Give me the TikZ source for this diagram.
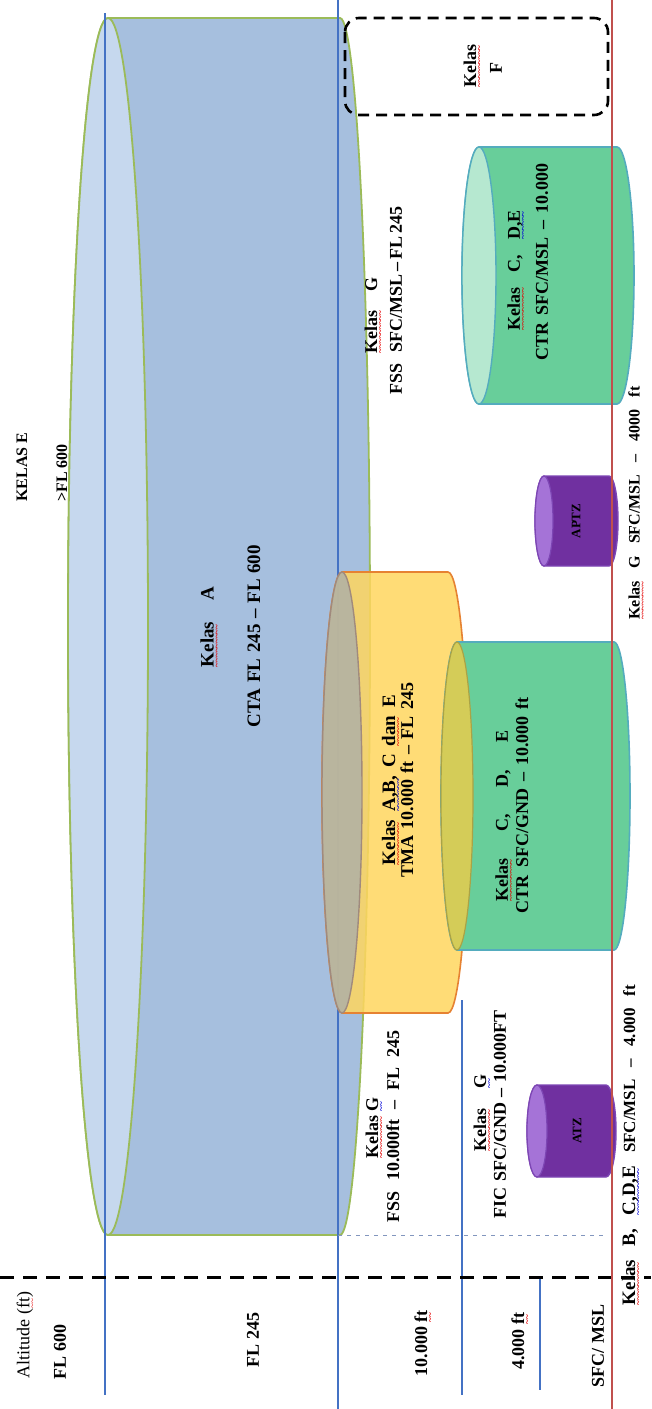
\documentclass[tikz,border=0pt]{standalone}
\usepackage{fontspec}
\setmainfont{Liberation Serif}
\newcommand\wavyul[2]{\setbox0\hbox{#2}\rlap{\raisebox{-6pt}[0pt][0pt]{\textcolor{#1}{\fontsize{9}{9}\selectfont\leaders\hbox{\char"007E}\hskip\wd0}}}\box0\relax}
\newcommand\rw[1]{\wavyul{red!90!black}{#1}}
\newcommand\bw[1]{\wavyul{blue!85!black}{#1}}
\definecolor{blueA}{RGB}{166,191,222}
\definecolor{blueAface}{RGB}{198,216,238}
\definecolor{greenE}{RGB}{155,187,89}
\definecolor{lineblue}{RGB}{68,114,196}
\definecolor{redL}{RGB}{192,80,77}
\definecolor{tmaY}{RGB}{255,214,95}
\definecolor{tmaO}{RGB}{230,130,50}
\definecolor{tmaFace}{RGB}{176,176,166}
\definecolor{tmaFaceD}{RGB}{160,138,125}
\definecolor{ctrG}{RGB}{104,206,154}
\definecolor{ctrFace}{RGB}{182,232,208}
\definecolor{ctrOl}{RGB}{84,172,190}
\definecolor{ctrOlive}{RGB}{212,204,88}
\definecolor{purp}{RGB}{112,48,160}
\definecolor{purpFace}{RGB}{165,115,215}
\definecolor{purpOl}{RGB}{125,70,180}
\definecolor{dotblue}{RGB}{130,150,190}
\newcommand\sidecyl[9]{% L R T B rx ry cy body face
  \filldraw[#8] (#1,#3) -- (#2,#3) arc[start angle=-90,end angle=90,x radius=#5,y radius=#6]
     -- (#1,#4) arc[start angle=90,end angle=270,x radius=#5,y radius=#6] -- cycle;
  \filldraw[#9] (#1,#7) ellipse[x radius=#5,y radius=#6];
}
\begin{document}
\begin{tikzpicture}[x=1pt,y=1pt,yscale=-1,
  vline/.style={draw=lineblue,line width=2pt},
  lab/.style={rotate=90,inner sep=0pt,text=black,font=\bfseries\fontsize{18}{20}\selectfont},
  labb/.style={lab,font=\bfseries\fontsize{19}{21}\selectfont},
  labs/.style={lab,font=\bfseries\fontsize{16}{18}\selectfont},
  labt/.style={lab,font=\bfseries\fontsize{13}{15}\selectfont}]
\useasboundingbox (0,0) rectangle (651,1409);
\fill[white] (0,0) rectangle (651,1409);
% Kelas A cylinder
\filldraw[fill=blueA,draw=greenE,line width=1.8pt] (108,18) -- (340,18)
  arc[start angle=-90,end angle=90,x radius=30,y radius=608.5] -- (108,1235)
  arc[start angle=90,end angle=270,x radius=40,y radius=608.5] -- cycle;
\filldraw[fill=blueAface,draw=greenE,line width=1.8pt] (108,626.5) ellipse[x radius=40,y radius=608.5];
% altitude lines
\draw[vline] (105,13) -- (105,1395);
\draw[vline] (338,0) -- (338,1409);
\draw[vline] (462,1000) -- (462,1395);
\draw[vline] (540,1277) -- (540,1390);
% dotted and dashed horizontals
\draw[draw=dotblue,line width=0.8pt,dash pattern=on 4pt off 5pt] (338,1235) -- (605,1235);
\draw[line width=3pt,dash pattern=on 14pt off 9pt] (0,1277) -- (651,1277);
% TMA cylinder
\sidecyl{342}{448}{572}{1013}{20}{220.5}{792.5}{fill=tmaY,fill opacity=0.85,draw=tmaO,line width=1.6pt}{fill=tmaFace,fill opacity=0.85,draw=tmaFaceD,line width=1.4pt}
% CTR left
\sidecyl{457}{614}{642}{950}{16}{154}{796}{fill=ctrG,draw=ctrOl,line width=1.6pt}{fill=ctrOlive,draw=ctrOlive!80!black,line width=1.2pt}
% CTR right
\sidecyl{479}{617}{147}{404}{17}{128.5}{275.5}{fill=ctrG,draw=ctrOl,line width=1.6pt}{fill=ctrFace,draw=ctrOl,line width=1.4pt}
% APTZ
\sidecyl{544}{609}{476}{566}{9}{45}{521}{fill=purp,draw=purpOl,line width=1.4pt}{fill=purpFace,draw=purpOl,line width=1.2pt}
% ATZ
\sidecyl{537}{606}{1085}{1177}{10}{46}{1131}{fill=purp,draw=purpOl,line width=1.4pt}{fill=purpFace,draw=purpOl,line width=1.2pt}
% red surface line
\draw[draw=redL,line width=2pt] (612,0) -- (612,1409);
% Kelas F box
\draw[line width=2.6pt,dash pattern=on 11pt off 7pt,rounded corners=14pt] (345,18) rectangle (608,115);
% altitude labels
\node[lab] (alt) at (25,1335) {\mdseries Altitude (\rw{ft})};
\node[lab] (fl600) at (60,1352) {FL 600};
\node[lab] (fl245) at (253,1340) {FL 245};
\node[lab] (f10k) at (421,1343) {10.000 \rw{ft}};
\node[lab] (f4k) at (518,1341) {4.000 \rw{ft}};
\node[lab] (fsfc) at (598,1346) {SFC/ MSL};
% class labels
\node[labs] (kelasE) at (22,467) {KELAS E};
\node[labs] (gtfl) at (62,473) {>FL 600};
\node[labb] (kA) at (207,627) {\makebox[80pt][s]{\rw{Kelas} A}};
\node[labb] (cta) at (254,636) {\makebox[182pt][s]{CTA FL 245 – FL 600}};
\node[lab] (kF1) at (470,66) {\rw{Kelas}};
\node[lab] (kF2) at (496,68) {F};
\node[lab] (kG1) at (371,315) {\makebox[76pt][s]{\rw{Kelas} G}};
\node[lab] (kG1b) at (396,303) {\makebox[183pt][s]{FSS\hspace{8pt} SFC/MSL – FL 245}};
\node[lab] (c2a) at (515,270) {\makebox[120pt][s]{\rw{Kelas} C, \bw{D,E}}};
\node[lab] (c2b) at (542,262) {\makebox[197pt][s]{CTR SFC/MSL – 10.000}};
\node[lab] (c1a) at (503,816) {\makebox[171pt][s]{\rw{Kelas} C, D, E}};
\node[lab] (c1b) at (522,805) {\makebox[216pt][s]{CTR SFC/GND – 10.000 ft}};
\node[labb] (t1) at (390,780) {\makebox[170pt][s]{\rw{Kelas} \bw{A,B,} C \rw{dan} E}};
\node[lab] (t2) at (407,780) {\makebox[195pt][s]{TMA 10.000 ft – FL 245}};
\node[lab] (g2a) at (372,1128) {\rw{Kelas} \bw{G}};
\node[lab] (g2b) at (393,1126) {\makebox[192pt][s]{FSS 10.000ft – FL 245}};
\node[lab] (g3a) at (480,1113) {\makebox[77pt][s]{\rw{Kelas} \bw{G}}};
\node[lab] (g3b) at (500,1114) {\makebox[208pt][s]{FIC SFC/GND – 10.000FT}};
\node[labt] (atz) at (577,1131) {ATZ};
\node[labt] (aptz) at (576,521) {APTZ};
\node[lab] (kb) at (630,1145) {\makebox[320pt][s]{{\fontsize{19}{20}\selectfont\rw{Kelas} B, \bw{C,D,E}} {\fontsize{17}{18}\selectfont SFC/MSL – 4.000 ft}}};
\node[labs] (kg4) at (634,503) {\makebox[233pt][s]{\rw{Kelas} G SFC/MSL – 4000 ft}};
\end{tikzpicture}
\end{document}
